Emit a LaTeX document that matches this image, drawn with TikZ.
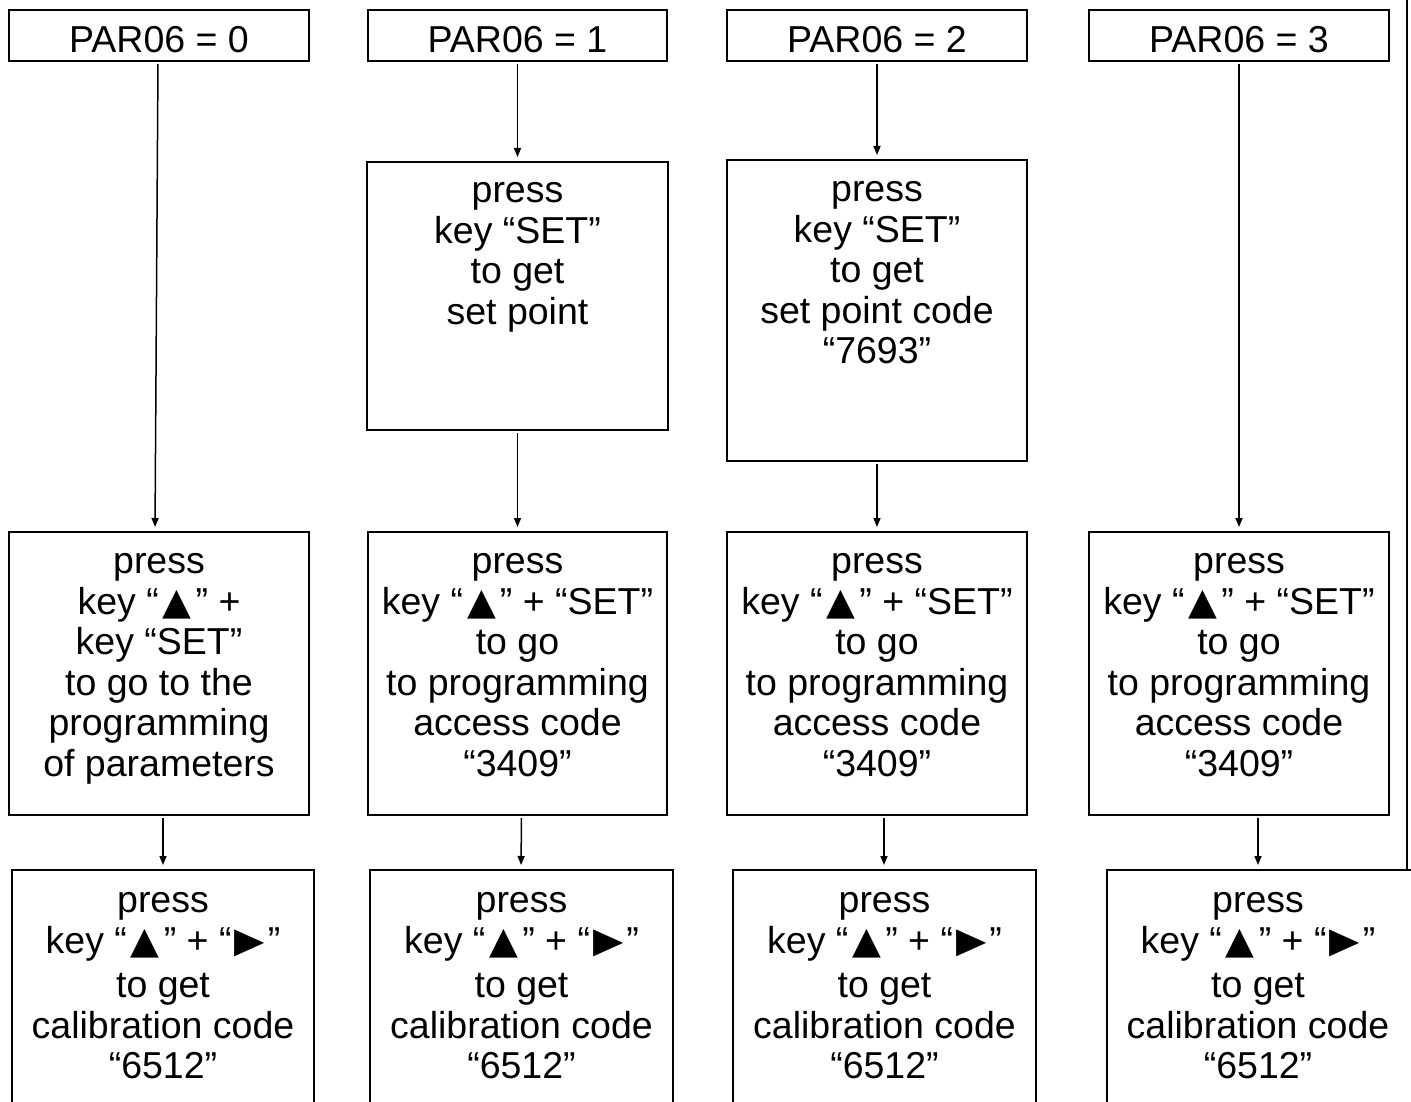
\documentclass[tikz,border=0pt]{standalone}
\usepackage{fontspec}
\usepackage{graphicx}
\setmainfont{Liberation Sans}
\newfontfamily\symfont{DejaVu Sans}
\usetikzlibrary{arrows.meta}
\newcommand{\triup}{\hspace{4pt}{\symfont ▲}\hspace{4pt}}
\newcommand{\triright}{\hspace{3pt}\raisebox{-4pt}{\scalebox{1.05}[1.45]{\symfont ►}}\hspace{3pt}}
\tikzset{
  box/.style={draw, line width=2.4pt, inner sep=0pt, outer sep=0pt, rectangle},
  hdr/.style={box, minimum width=300pt, minimum height=51pt, text height=34pt, text depth=0pt, font=\fontsize{37.5}{40.5}\selectfont},
  txt/.style={anchor=north, align=center, inner sep=0pt, font=\fontsize{37.5}{40.5}\selectfont},
  conn/.style={line width=1.5pt, -{Triangle[length=9pt,width=7pt]}, shorten <=3pt, shorten >=5pt},
}
\begin{document}
\begin{tikzpicture}[x=1pt,y=-1pt]
\useasboundingbox (0,0) rectangle (1411,1102);
\clip (0,0) rectangle (1411,1102);
% header boxes
\node[hdr] (t0) at (159,35.5) {PAR06 = 0};
\node[hdr, minimum width=299pt] (t1) at (517.5,35.5) {PAR06 = 1};
\node[hdr] (t2) at (877,35.5) {PAR06 = 2};
\node[hdr] (t3) at (1239,35.5) {PAR06 = 3};
% upper step boxes
\node[box, minimum width=301pt, minimum height=268pt] (u1) at (517.5,296) {};
\node[box, minimum width=300pt, minimum height=301pt] (u2) at (877,310.5) {};
\node[txt] (u1t) at ([yshift=-12pt]u1.north) {\strut press\\key “SET”\\to get\\set point};
\node[txt] (u2t) at ([yshift=-13pt]u2.north) {\strut press\\key “SET”\\to get\\set point code\\“7693”};
% middle boxes
\node[box, minimum width=300pt, minimum height=283pt] (m0) at (159,673.5) {};
\node[box, minimum width=299pt, minimum height=283pt] (m1) at (517.5,673.5) {};
\node[box, minimum width=300pt, minimum height=283pt] (m2) at (877,673.5) {};
\node[box, minimum width=300pt, minimum height=283pt] (m3) at (1239,673.5) {};
\node[txt] (m0t) at ([yshift=-13pt]m0.north) {\strut press\\key “\triup” +\\key “SET”\\to go to the\\programming\\of parameters};
\node[txt] (m1t) at ([yshift=-13pt]m1.north) {\strut press\\key “\triup” + “SET”\\to go\\to programming\\access code\\“3409”};
\node[txt] (m2t) at ([yshift=-13pt]m2.north) {\strut press\\key “\triup” + “SET”\\to go\\to programming\\access code\\“3409”};
\node[txt] (m3t) at ([yshift=-13pt]m3.north) {\strut press\\key “\triup” + “SET”\\to go\\to programming\\access code\\“3409”};
% bottom boxes (cut off by the lower edge)
\node[box, minimum width=302pt, minimum height=260pt] (b0) at (163,1000) {};
\node[box, minimum width=303pt, minimum height=260pt] (b1) at (521.5,1000) {};
\node[box, minimum width=303pt, minimum height=260pt] (b2) at (884.5,1000) {};
\node[box, minimum width=320pt, minimum height=260pt] (b3) at (1267,1000) {};
\node[txt] (b0t) at ([yshift=-14pt]b0.north) {\strut press\\key “\triup” + “\triright”\\[4pt]to get\\calibration code\\“6512”};
\node[txt] (b1t) at ([yshift=-14pt]b1.north) {\strut press\\key “\triup” + “\triright”\\[4pt]to get\\calibration code\\“6512”};
\node[txt] (b2t) at ([yshift=-14pt]b2.north) {\strut press\\key “\triup” + “\triright”\\[4pt]to get\\calibration code\\“6512”};
\node[txt] (b3t) at ([xshift=-9pt,yshift=-14pt]b3.north) {\strut press\\key “\triup” + “\triright”\\[4pt]to get\\calibration code\\“6512”};
% right border line
\coordinate (edgetop) at (1407,0);
\draw[line width=2.4pt] (edgetop) -- (edgetop |- b3.north);
% connectors
\draw[conn] ([xshift=-1pt]t0.south) -- ([xshift=-4pt]m0.north);
\draw[conn] (t1.south) -- (u1.north);
\draw[conn] (u1.south) -- (m1.north);
\draw[conn] (t2.south) -- (u2.north);
\draw[conn] (u2.south) -- (m2.north);
\draw[conn] (t3.south) -- (m3.north);
\draw[conn] ([xshift=4pt]m0.south) -- (b0.north);
\draw[conn] ([xshift=4pt]m1.south) -- ([xshift=-0.5pt]b1.north);
\draw[conn] ([xshift=7pt]m2.south) -- ([xshift=-0.5pt]b2.north);
\draw[conn] ([xshift=19pt]m3.south) -- ([xshift=-9pt]b3.north);
\end{tikzpicture}
\end{document}
